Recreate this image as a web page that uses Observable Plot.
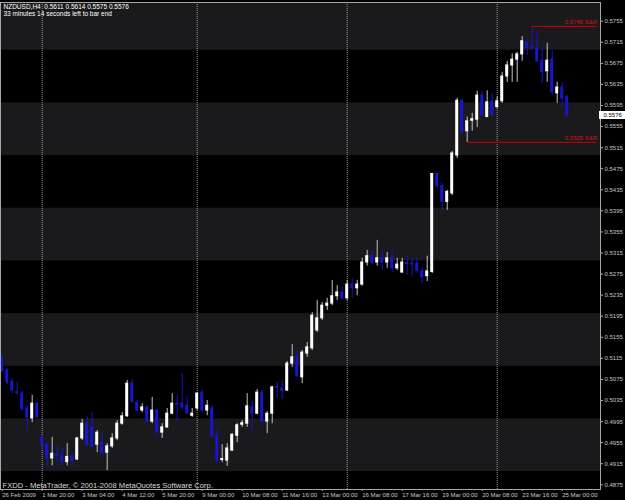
<!DOCTYPE html>
<html><head><meta charset="utf-8">
<script src="https://cdn.jsdelivr.net/npm/d3@7"></script>
<script src="https://cdn.jsdelivr.net/npm/@observablehq/plot@0.6"></script>
<style>
html,body{margin:0;padding:0;background:#000;}
#chart{width:625px;height:500px;overflow:hidden;background:#000}
</style></head><body><div id="chart"></div>
<script>
const symbol = "NZDUSD,H4";
const timerText = "33 minutes 14 seconds left to bar end";
const copyright = "FXDD - MetaTrader, \u00A9 2001-2008 MetaQuotes Software Corp.";

const opens = [0.5115,0.5092,0.5071,0.5051,0.5048,0.5020,0.5001,0.5029,0.4965,0.4951,
0.4925,0.4934,0.4930,0.4918,0.4929,0.4923,0.4963,0.4991,0.4984,0.4951,
0.4955,0.4936,0.4948,0.4963,0.4991,0.5005,0.5067,0.5031,0.5016,0.5022,
0.4995,0.5016,0.4974,0.4984,0.5010,0.5029,0.5029,0.5025,0.5006,0.5020,
0.5050,0.5016,0.5020,0.4968,0.4922,0.4921,0.4940,0.4968,0.4989,0.4991,
0.5022,0.5010,0.5050,0.4995,0.5010,0.5061,0.5058,0.5054,0.5105,0.5119,
0.5079,0.5124,0.5134,0.5168,0.5191,0.5215,0.5219,0.5233,0.5240,0.5229,
0.5255,0.5248,0.5255,0.5297,0.5309,0.5297,0.5305,0.5297,0.5305,0.5286,
0.5278,0.5296,0.5295,0.5295,0.5280,0.5271,0.5279,0.5465,0.5442,0.5412,
0.5428,0.5500,0.5604,0.5546,0.5566,0.5568,0.5614,0.5573,0.5603,0.5592,
0.5603,0.5650,0.5671,0.5682,0.5692,0.5715,0.5707,0.5703,0.5680,0.5660,
0.5682,0.5618,0.5629,0.5611];
const highs = [0.5120,0.5096,0.5077,0.5069,0.5052,0.5025,0.5045,0.5031,0.4968,0.4953,
0.4965,0.4949,0.4944,0.4953,0.4934,0.4965,0.4999,0.5005,0.5012,0.4978,
0.4974,0.4953,0.4972,0.4997,0.5012,0.5073,0.5075,0.5035,0.5029,0.5024,
0.5041,0.5018,0.4991,0.5020,0.5048,0.5045,0.5086,0.5041,0.5020,0.5050,
0.5054,0.5035,0.5025,0.4978,0.4951,0.4953,0.4972,0.4991,0.4997,0.5048,
0.5033,0.5056,0.5054,0.5014,0.5062,0.5069,0.5073,0.5109,0.5141,0.5130,
0.5130,0.5145,0.5202,0.5225,0.5221,0.5229,0.5263,0.5253,0.5250,0.5263,
0.5267,0.5263,0.5305,0.5320,0.5320,0.5339,0.5316,0.5316,0.5320,0.5305,
0.5305,0.5309,0.5305,0.5305,0.5286,0.5309,0.5466,0.5466,0.5447,0.5434,
0.5508,0.5609,0.5606,0.5573,0.5580,0.5622,0.5622,0.5623,0.5618,0.5611,
0.5658,0.5679,0.5693,0.5696,0.5726,0.5720,0.5745,0.5736,0.5706,0.5713,
0.5700,0.5639,0.5639,0.5614];
const lows = [0.5088,0.5065,0.5048,0.5045,0.5016,0.4978,0.4993,0.5001,0.4940,0.4910,
0.4911,0.4915,0.4911,0.4911,0.4910,0.4921,0.4959,0.4948,0.4946,0.4936,
0.4931,0.4902,0.4944,0.4959,0.4988,0.5003,0.5029,0.5014,0.5012,0.4991,
0.4991,0.4972,0.4963,0.4982,0.5008,0.4995,0.5016,0.5008,0.5003,0.5016,
0.5012,0.5006,0.4965,0.4917,0.4917,0.4910,0.4938,0.4955,0.4984,0.4984,
0.4978,0.5008,0.4991,0.4972,0.4991,0.5039,0.5037,0.5052,0.5098,0.5079,
0.5067,0.5117,0.5130,0.5164,0.5187,0.5206,0.5215,0.5225,0.5225,0.5225,
0.5229,0.5234,0.5252,0.5290,0.5293,0.5290,0.5282,0.5286,0.5278,0.5282,
0.5276,0.5273,0.5271,0.5276,0.5257,0.5261,0.5276,0.5438,0.5395,0.5396,
0.5424,0.5494,0.5542,0.5525,0.5546,0.5553,0.5573,0.5572,0.5573,0.5589,
0.5599,0.5639,0.5639,0.5639,0.5679,0.5690,0.5702,0.5677,0.5637,0.5639,
0.5614,0.5599,0.5591,0.5575];
const closes = [0.5090,0.5069,0.5054,0.5049,0.5018,0.5003,0.5029,0.5003,0.4953,0.4925,
0.4934,0.4930,0.4919,0.4928,0.4920,0.4963,0.4991,0.4950,0.4948,0.4974,
0.4934,0.4948,0.4963,0.4991,0.5005,0.5067,0.5033,0.5016,0.5022,0.4995,
0.5016,0.4974,0.4984,0.5010,0.5029,0.5027,0.5022,0.5010,0.5010,0.5048,
0.5016,0.5025,0.4967,0.4921,0.4924,0.4944,0.4970,0.4988,0.4992,0.5024,
0.5010,0.5050,0.4995,0.5010,0.5060,0.5059,0.5053,0.5105,0.5117,0.5081,
0.5126,0.5136,0.5196,0.5191,0.5215,0.5219,0.5233,0.5240,0.5229,0.5255,
0.5248,0.5255,0.5297,0.5309,0.5297,0.5305,0.5297,0.5305,0.5286,0.5293,
0.5297,0.5294,0.5293,0.5281,0.5269,0.5280,0.5465,0.5442,0.5412,0.5431,
0.5504,0.5604,0.5544,0.5565,0.5569,0.5614,0.5576,0.5601,0.5576,0.5603,
0.5650,0.5671,0.5682,0.5692,0.5717,0.5704,0.5703,0.5679,0.5658,0.5680,
0.5620,0.5629,0.5608,0.5576];

const dateTickIndex = [0,8,16,24,32,40,48,56,64,72,80,88,96,104,112];
const dateTickLabels = ["26 Feb 2009","1 Mar 20:00","3 Mar 04:00","4 Mar 12:00","5 Mar 20:00",
"9 Mar 00:00","10 Mar 08:00","11 Mar 16:00","13 Mar 00:00","16 Mar 08:00","17 Mar 16:00",
"19 Mar 00:00","20 Mar 08:00","23 Mar 16:00","25 Mar 00:00"];
const priceTicks = [0.5755,0.5715,0.5675,0.5635,0.5595,0.5555,0.5515,0.5475,0.5435,0.5395,0.5355,
0.5315,0.5275,0.5235,0.5195,0.5155,0.5115,0.5075,0.5035,0.4995,0.4955,0.4915,0.4875];
const separatorIndex = [8,39,69,99];
const bandLow = [0.57,0.55,0.53,0.51,0.49];
const bandStep = 0.01;
const srLevels = [0.5745,0.5525];
const srStart = [106,93];

const xDom = [-0.34, 119.66];
const yDom = [0.48661, 0.57905];
const UP = "#ffffff", UPWICK = "#c4c4c4", DOWN = "#1616cc";

const bars = opens.map((o,i)=>({i, o, h:highs[i], l:lows[i], c:closes[i], up: closes[i] >= opens[i]}));
const sr = srLevels.map((level,k)=>({level, start: srStart[k]}));
const last = bars[bars.length-1];
const headerText = `${symbol}  ${last.o.toFixed(4)} ${last.h.toFixed(4)} ${last.l.toFixed(4)} ${last.c.toFixed(4)}`;

const chart = Plot.plot({
  width: 625, height: 500,
  marginLeft: 0, marginRight: 25, marginTop: 2, marginBottom: 11,
  style: {background:"#000", color:"#c8c8c8", fontFamily:"'Liberation Sans', Arial, sans-serif"},
  x: {domain: xDom},
  y: {domain: yDom},
  color: {type:"identity"},
  marks: [
    Plot.rect(bandLow, {y1: d=>d, y2: d=>Math.min(d+bandStep, yDom[1]), fill:"#1a1a1d"}),
    Plot.ruleX(separatorIndex, {x: d=>d, stroke:"#a0a0a0", strokeDasharray:"1,1"}),
    Plot.ruleX(bars, {x:"i", y1:"l", y2:"h", stroke: d=> d.up ? UPWICK : DOWN}),
    Plot.rect(bars, {x1: d=>d.i-0.3, x2: d=>d.i+0.3,
      y1: d=>Math.min(d.o,d.c), y2: d=>Math.max(d.o,d.c),
      fill: d=> d.up ? UP : DOWN, insetTop: -0.5, insetBottom: -0.5}),
    Plot.ruleY(sr, {y:"level", x1:"start", x2: ()=>119, stroke:"#cc0000"}),
    Plot.text(sr, {x: ()=>119, y:"level", text: d=>d.level.toFixed(4)+" S&R", textAnchor:"end", dy:-4, fill:"#dd1010", fontSize:6}),
    Plot.frame({stroke:"#a8a8a8"}),
    Plot.axisY(priceTicks, {anchor:"right", tickFormat: d=>d.toFixed(4), tickSize:2, tickPadding:2, fontSize:6, stroke:"#a8a8a8"}),
    Plot.axisX(dateTickIndex, {anchor:"bottom", tickFormat: d=>dateTickLabels[dateTickIndex.indexOf(d)], textAnchor:"start", tickSize:2, tickPadding:1, fontSize:6, stroke:"#a8a8a8"}),
    Plot.rect([last], {x1: ()=>xDom[1], x2: ()=>xDom[1], y1: d=>d.c, y2: d=>d.c,
      insetLeft:-1, insetRight:-25, insetTop:-4, insetBottom:-4, fill:"#ffffff"}),
    Plot.text([last], {x: ()=>xDom[1], y: d=>d.c, text: d=>d.c.toFixed(4), textAnchor:"start", dx:3, fill:"#000", fontSize:6}),
    Plot.text([headerText], {frameAnchor:"top-left", dx:3, dy:2, lineAnchor:"top", fill:"#ffffff", fontSize:6.5}),
    Plot.text([timerText], {frameAnchor:"top-left", dx:3, dy:9, lineAnchor:"top", fill:"#ffffff", fontSize:6.5}),
    Plot.text([copyright], {frameAnchor:"bottom-left", dx:2, dy:-1.5, lineAnchor:"bottom", fill:"#dadada", fontSize:7.6})
  ]
});
document.getElementById("chart").appendChild(chart);
</script></body></html>
